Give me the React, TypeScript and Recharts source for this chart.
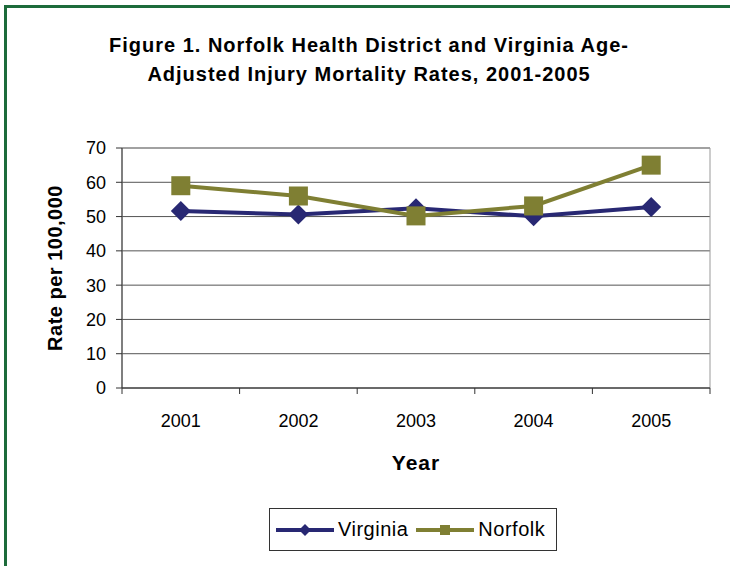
import React from "react";
import {
  LineChart,
  Line,
  XAxis,
  YAxis,
  CartesianGrid,
  ReferenceArea,
  Legend,
} from "recharts";

const years = ["2001", "2002", "2003", "2004", "2005"];
const virginia = [51.6, 50.6, 52.4, 50.1, 52.8];
const norfolk = [59.0, 56.0, 50.2, 53.1, 65.0];
const yTicks = [0, 10, 20, 30, 40, 50, 60, 70];
const seriesOrder = ["Virginia", "Norfolk"];

const FONT = '"Liberation Sans", Arial, sans-serif';
const NAVY = "#282873";
const OLIVE = "#7f7f33";

// categories sit at i + 0.5 so the tick marks can fall between them
const data = years.map((year, i) => ({
  pos: i + 0.5,
  year,
  Virginia: virginia[i],
  Norfolk: norfolk[i],
}));
const xTicks = years.flatMap((_, i) => [i, i + 0.5]).concat(years.length);

const XTick = (props: any) => {
  const { x, y, payload } = props;
  const v = payload.value as number;
  if (Number.isInteger(v)) {
    return <line x1={x} x2={x} y1={y} y2={y + 6} stroke="#333" />;
  }
  return (
    <text x={x} y={y + 39} textAnchor="middle" fontSize={18} fill="#000" fontFamily={FONT}>
      {years[Math.floor(v)]}
    </text>
  );
};

const Diamond = (props: any) => {
  const { cx, cy, index } = props;
  const r = 10;
  return (
    <polygon
      key={`d-${index}`}
      points={`${cx},${cy - r} ${cx + r},${cy} ${cx},${cy + r} ${cx - r},${cy}`}
      fill={NAVY}
    />
  );
};

const Square = (props: any) => {
  const { cx, cy, index } = props;
  const s = 19;
  return <rect key={`s-${index}`} x={cx - s / 2} y={cy - s / 2} width={s} height={s} fill={OLIVE} />;
};

const renderLegend = (props: any) => {
  const items = [...((props.payload || []) as any[])].sort(
    (a, b) => seriesOrder.indexOf(a.value) - seriesOrder.indexOf(b.value)
  );
  return (
    <div
      style={{
        border: "1px solid #333",
        width: 288,
        height: 43,
        display: "flex",
        alignItems: "center",
        boxSizing: "border-box",
        paddingLeft: 6,
        fontFamily: FONT,
        fontSize: 20,
        letterSpacing: 0.5,
        background: "#fff",
      }}
    >
      {items.map((it) => (
        <div key={it.value} style={{ display: "flex", alignItems: "center", marginRight: 8 }}>
          <svg width={58} height={20} style={{ marginRight: 4 }}>
            <line x1={0} x2={58} y1={10} y2={10} stroke={it.color} strokeWidth={4} />
            {it.value === "Virginia" ? (
              <polygon points="29,4 35,10 29,16 23,10" fill={it.color} />
            ) : (
              <rect x={24} y={5} width={10} height={10} fill={it.color} />
            )}
          </svg>
          <span>{it.value}</span>
        </div>
      ))}
    </div>
  );
};

export default function App() {
  return (
    <div style={{ position: "relative", width: 730, height: 566, overflow: "hidden", background: "#fff" }}>
      <style>{"body{margin:0}"}</style>
      <div
        style={{
          position: "absolute",
          left: 4,
          top: 5,
          width: 740,
          height: 559,
          borderTop: "3px solid #1d6b3b",
          borderLeft: "3px solid #1d6b3b",
          borderBottom: "1px solid #b5d3bd",
        }}
      />
      <div
        style={{
          position: "absolute",
          left: 69,
          top: 31,
          width: 600,
          textAlign: "center",
          fontFamily: FONT,
          fontWeight: "bold",
          fontSize: 20,
          letterSpacing: 1,
          lineHeight: "29px",
          whiteSpace: "pre",
          color: "#000",
        }}
      >
        {"Figure 1. Norfolk Health District and Virginia Age-\nAdjusted Injury Mortality Rates, 2001-2005"}
      </div>
      <div style={{ position: "absolute", left: 0, top: 0 }}>
        <LineChart
          width={730}
          height={566}
          data={data}
          margin={{ top: 148, right: 20, left: 0, bottom: 118 }}
        >
          <CartesianGrid vertical={false} stroke="#555" />
          <ReferenceArea x1={0} x2={5} y1={0} y2={70} fill="none" stroke="#999" strokeOpacity={1} />
          <XAxis
            dataKey="pos"
            type="number"
            domain={[0, 5]}
            ticks={xTicks}
            interval={0}
            tick={<XTick />}
            tickLine={false}
            tickSize={0}
            tickMargin={0}
            height={60}
            axisLine={{ stroke: "#333" }}
            label={{
              value: "Year",
              position: "bottom",
              offset: 7,
              fill: "#000",
              style: { fontFamily: FONT, fontWeight: "bold", fontSize: 21, letterSpacing: 1 },
            }}
          />
          <YAxis
            domain={[0, 70]}
            ticks={yTicks}
            interval={0}
            width={122}
            tickSize={6}
            tickMargin={10}
            axisLine={{ stroke: "#333" }}
            tickLine={{ stroke: "#333" }}
            tick={{ fontSize: 18, fill: "#000", fontFamily: FONT }}
            label={{
              value: "Rate per 100,000",
              angle: -90,
              position: "insideLeft",
              offset: 55,
              fill: "#000",
              style: {
                textAnchor: "middle",
                fontFamily: FONT,
                fontWeight: "bold",
                fontSize: 20,
                letterSpacing: 0.5,
              },
            }}
          />
          <Legend
            layout="vertical"
            align="center"
            verticalAlign="middle"
            content={renderLegend}
            wrapperStyle={{ top: 508, left: 269 }}
          />
          <Line
            dataKey="Virginia"
            stroke={NAVY}
            strokeWidth={4}
            dot={<Diamond />}
            activeDot={false}
            isAnimationActive={false}
          />
          <Line
            dataKey="Norfolk"
            stroke={OLIVE}
            strokeWidth={4}
            dot={<Square />}
            activeDot={false}
            isAnimationActive={false}
          />
        </LineChart>
      </div>
    </div>
  );
}
